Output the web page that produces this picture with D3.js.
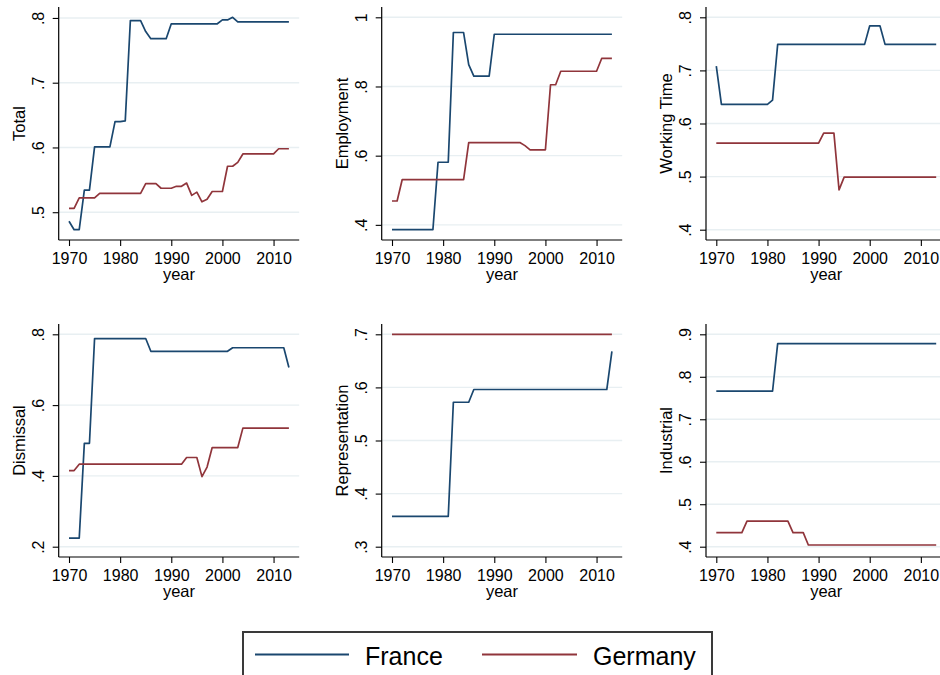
<!DOCTYPE html>
<html><head><meta charset="utf-8">
<script src="https://cdn.jsdelivr.net/npm/d3@7"></script>
<style>body{margin:0;background:#fff}svg{display:block}text{font-family:"Liberation Sans",Arial,sans-serif;fill:#000}</style>
</head><body>
<script>
const years = [1970,1971,1972,1973,1974,1975,1976,1977,1978,1979,1980,1981,1982,1983,1984,1985,1986,1987,1988,1989,1990,1991,1992,1993,1994,1995,1996,1997,1998,1999,2000,2001,2002,2003,2004,2005,2006,2007,2008,2009,2010,2011,2012,2013];
const xTicks = [1970,1980,1990,2000,2010];

const franceTotal = [.486,.473,.473,.534,.534,.601,.601,.601,.601,.640,.640,.641,.796,.796,.796,.779,.768,.768,.768,.768,.791,.791,.791,.791,.791,.791,.791,.791,.791,.791,.797,.797,.801,.794,.794,.794,.794,.794,.794,.794,.794,.794,.794,.794];
const germanyTotal = [.506,.506,.522,.522,.522,.522,.529,.529,.529,.529,.529,.529,.529,.529,.529,.544,.544,.544,.537,.537,.537,.540,.540,.545,.526,.531,.516,.520,.532,.532,.532,.571,.571,.577,.590,.590,.590,.590,.590,.590,.590,.598,.598,.598];

const franceEmployment = [.386,.386,.386,.386,.386,.386,.386,.386,.386,.581,.581,.581,.956,.956,.956,.863,.830,.830,.830,.830,.951,.951,.951,.951,.951,.951,.951,.951,.951,.951,.951,.951,.951,.951,.951,.951,.951,.951,.951,.951,.951,.951,.951,.951];
const germanyEmployment = [.469,.469,.531,.531,.531,.531,.531,.531,.531,.531,.531,.531,.531,.531,.531,.638,.638,.638,.638,.638,.638,.638,.638,.638,.638,.638,.629,.617,.617,.617,.617,.805,.805,.844,.844,.844,.844,.844,.844,.844,.844,.881,.881,.881];

const franceWorking = [.708,.636,.636,.636,.636,.636,.636,.636,.636,.636,.636,.644,.749,.749,.749,.749,.749,.749,.749,.749,.749,.749,.749,.749,.749,.749,.749,.749,.749,.749,.784,.784,.784,.749,.749,.749,.749,.749,.749,.749,.749,.749,.749,.749];
const germanyWorking = [.563,.563,.563,.563,.563,.563,.563,.563,.563,.563,.563,.563,.563,.563,.563,.563,.563,.563,.563,.563,.563,.582,.582,.582,.475,.499,.499,.499,.499,.499,.499,.499,.499,.499,.499,.499,.499,.499,.499,.499,.499,.499,.499,.499];

const franceDismissal = [.224,.224,.224,.492,.492,.788,.788,.788,.788,.788,.788,.788,.788,.788,.788,.788,.752,.752,.752,.752,.752,.752,.752,.752,.752,.752,.752,.752,.752,.752,.752,.752,.762,.762,.762,.762,.762,.762,.762,.762,.762,.762,.762,.706];
const germanyDismissal = [.415,.415,.433,.433,.433,.433,.433,.433,.433,.433,.433,.433,.433,.433,.433,.433,.433,.433,.433,.433,.433,.433,.433,.452,.452,.452,.398,.425,.480,.480,.480,.480,.480,.480,.535,.535,.535,.535,.535,.535,.535,.535,.535,.535];

const franceRepresentation = [.357,.357,.357,.357,.357,.357,.357,.357,.357,.357,.357,.357,.572,.572,.572,.572,.596,.596,.596,.596,.596,.596,.596,.596,.596,.596,.596,.596,.596,.596,.596,.596,.596,.596,.596,.596,.596,.596,.596,.596,.596,.596,.596,.668];
const germanyRepresentation = [.700,.700,.700,.700,.700,.700,.700,.700,.700,.700,.700,.700,.700,.700,.700,.700,.700,.700,.700,.700,.700,.700,.700,.700,.700,.700,.700,.700,.700,.700,.700,.700,.700,.700,.700,.700,.700,.700,.700,.700,.700,.700,.700,.700];

const franceIndustrial = [.766,.766,.766,.766,.766,.766,.766,.766,.766,.766,.766,.766,.878,.878,.878,.878,.878,.878,.878,.878,.878,.878,.878,.878,.878,.878,.878,.878,.878,.878,.878,.878,.878,.878,.878,.878,.878,.878,.878,.878,.878,.878,.878,.878];
const germanyIndustrial = [.433,.433,.433,.433,.433,.433,.460,.460,.460,.460,.460,.460,.460,.460,.460,.433,.433,.433,.404,.404,.404,.404,.404,.404,.404,.404,.404,.404,.404,.404,.404,.404,.404,.404,.404,.404,.404,.404,.404,.404,.404,.404,.404,.404];

const panelTitles = ["Total","Employment","Working Time","Dismissal","Representation","Industrial"];
const yTicksTotal = [.5,.6,.7,.8];
const yTicksEmployment = [.4,.6,.8,1];
const yTicksWorking = [.4,.5,.6,.7,.8];
const yTicksDismissal = [.2,.4,.6,.8];
const yTicksRepresentation = [.3,.4,.5,.6,.7];
const yTicksIndustrial = [.4,.5,.6,.7,.8,.9];
const seriesNames = ["France","Germany"];
const colors = ["#1a476f","#90353b"];

const panels = [
  {title:panelTitles[0], fr:franceTotal, de:germanyTotal, ticks:yTicksTotal},
  {title:panelTitles[1], fr:franceEmployment, de:germanyEmployment, ticks:yTicksEmployment},
  {title:panelTitles[2], fr:franceWorking, de:germanyWorking, ticks:yTicksWorking},
  {title:panelTitles[3], fr:franceDismissal, de:germanyDismissal, ticks:yTicksDismissal},
  {title:panelTitles[4], fr:franceRepresentation, de:germanyRepresentation, ticks:yTicksRepresentation},
  {title:panelTitles[5], fr:franceIndustrial, de:germanyIndustrial, ticks:yTicksIndustrial}
];

const W = 940, H = 675;
const svg = d3.select("body").append("svg").attr("width",W).attr("height",H);
const colX = [58.7, 381.7, 706];
const rowY = [[7,240],[324,557]];
const plotW = 240.5;
const pad = 10.3;
const fmt = d => d === 1 ? "1" : d3.format(".1f")(d).replace(/^0/,"");

panels.forEach((p,i) => {
  const c = i % 3, r = Math.floor(i/3);
  const left = colX[c], right = left + plotW;
  const top = rowY[r][0], bottom = rowY[r][1];
  const allY = p.fr.concat(p.de, p.ticks);
  const x = d3.scaleLinear().domain(d3.extent(years.concat(xTicks))).range([left+pad, right-pad]);
  const y = d3.scaleLinear().domain(d3.extent(allY)).range([bottom-pad, top+pad]);
  const g = svg.append("g");

  // gridlines
  g.selectAll("line.grid").data(p.ticks).join("line")
    .attr("x1", left).attr("x2", right)
    .attr("y1", d=>y(d)).attr("y2", d=>y(d))
    .attr("stroke","#e8eff2").attr("stroke-width",1.4);

  // lines
  [p.fr, p.de].forEach((vals,k) => {
    const line = d3.line().x((d,j)=>x(years[j])).y(d=>y(d));
    g.append("path").datum(vals).attr("d", line)
      .attr("fill","none").attr("stroke",colors[k]).attr("stroke-width",1.7)
      .attr("stroke-linejoin","round");
  });

  // y axis
  const ya = g.append("g").attr("transform",`translate(${left},0)`)
    .call(d3.axisLeft(y).tickValues(p.ticks).tickFormat(fmt).tickSize(6).tickSizeOuter(0));
  ya.select(".domain").attr("d",`M0,${top}V${bottom}`).attr("stroke","#000").attr("stroke-width",1.2);
  ya.selectAll(".tick line").attr("stroke","#000").attr("stroke-width",1.1);
  ya.selectAll(".tick text").attr("transform","rotate(-90)").attr("x",0).attr("y",-15.2)
    .attr("dy",null).attr("text-anchor","middle").style("font-size","16px")
    .style("font-family",'"Liberation Sans",Arial,sans-serif');

  // x axis
  const xa = g.append("g").attr("transform",`translate(0,${bottom})`)
    .call(d3.axisBottom(x).tickValues(xTicks).tickFormat(d3.format("d")).tickSize(6).tickSizeOuter(0));
  xa.select(".domain").attr("d",`M${left},0H${right}`).attr("stroke","#000").attr("stroke-width",1.2);
  xa.selectAll(".tick line").attr("stroke","#000").attr("stroke-width",1.1);
  xa.selectAll(".tick text").attr("y",24).attr("dy",null).style("font-size","16px")
    .style("font-family",'"Liberation Sans",Arial,sans-serif');

  // axis titles
  g.append("text").attr("x",(left+right)/2).attr("y",bottom+40).attr("text-anchor","middle")
    .style("font-size","16.5px").text("year");
  g.append("text").attr("transform",`translate(${left-34},${(top+bottom)/2}) rotate(-90)`)
    .attr("text-anchor","middle").style("font-size","16.5px").text(p.title);
});

// legend
const lg = svg.append("g");
lg.append("rect").attr("x",243).attr("y",632).attr("width",469).attr("height",60)
  .attr("fill","#fff").attr("stroke","#3a3a3a").attr("stroke-width",2);
const legX = [[255,349,365],[482,577,593]];
seriesNames.forEach((n,k)=>{
  lg.append("line").attr("x1",legX[k][0]).attr("x2",legX[k][1]).attr("y1",654.5).attr("y2",654.5)
    .attr("stroke",colors[k]).attr("stroke-width",2);
  lg.append("text").attr("x",legX[k][2]).attr("y",664.5).style("font-size","25px").text(n);
});
</script>
</body></html>
